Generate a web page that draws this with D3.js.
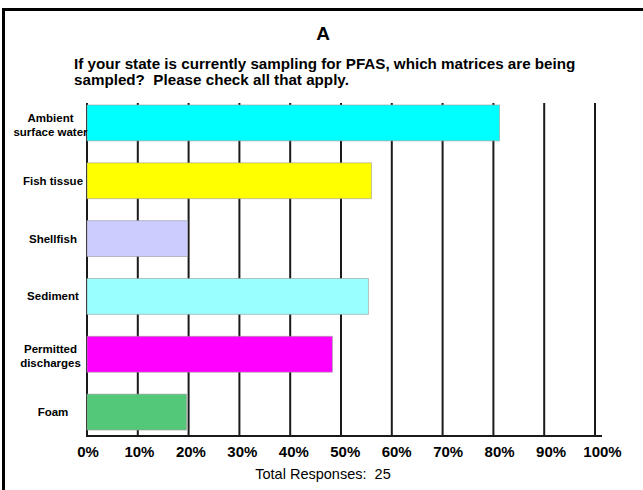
<!DOCTYPE html>
<html>
<head>
<meta charset="utf-8">
<script src="https://cdn.jsdelivr.net/npm/d3@7"></script>
<style>
  body { margin: 0; background: #fff; }
  svg { display: block; font-family: Arial, "Liberation Sans", sans-serif; }
  text { white-space: pre; }
</style>
</head>
<body>
<svg width="643" height="490"></svg>
<script>
// survey answers, percent of 25 responses
const categories = ["Ambient surface water", "Fish tissue", "Shellfish", "Sediment", "Permitted discharges", "Foam"];
const labelLines = [["Ambient", "surface water"], ["Fish tissue"], ["Shellfish"], ["Sediment"], ["Permitted", "discharges"], ["Foam"]];
const values = [81.2, 56, 19.8, 55.4, 48.3, 19.6];
const colors = ["#00ffff", "#ffff00", "#ccccff", "#99ffff", "#ff00ff", "#52c878"];
const ticks = [0, 10, 20, 30, 40, 50, 60, 70, 80, 90, 100];

const svg = d3.select("svg");

// outer frame of the slide
svg.append("rect")
  .attr("x", 3.5).attr("y", 9.5)
  .attr("width", 700).attr("height", 600)
  .attr("fill", "none")
  .attr("stroke", "#000")
  .attr("stroke-width", 3);

// title + question
svg.append("text")
  .attr("x", 323).attr("y", 40)
  .attr("text-anchor", "middle")
  .attr("font-size", 19).attr("font-weight", "bold")
  .text("A");

const q = svg.append("text")
  .attr("x", 74).attr("y", 69)
  .attr("font-size", 15.2).attr("font-weight", "bold");
q.append("tspan").attr("x", 74).text("If your state is currently sampling for PFAS, which matrices are being");
q.append("tspan").attr("x", 74).attr("dy", 16).text("sampled?  Please check all that apply.");

const xScale = d3.scaleLinear().domain([0, 100]).range([87, 595]);
const xLabel = d3.scaleLinear().domain([0, 100]).range([87.5, 602]); // labels sit a bit to the right of the lines
const yScale = d3.scaleBand()
  .domain(categories)
  .range([94, 441])
  .paddingInner(0.38)
  .paddingOuter(0.19);

const g = svg.append("g");

// vertical grid lines
g.selectAll("line.grid")
  .data(ticks)
  .enter()
  .append("line")
  .attr("class", "grid")
  .attr("x1", d => xScale(d)).attr("x2", d => xScale(d))
  .attr("y1", 103).attr("y2", 436)
  .attr("stroke", "#1a1a1a")
  .attr("stroke-width", 2);

// bottom axis line
g.append("line")
  .attr("x1", xScale(0) - 1).attr("x2", 602)
  .attr("y1", 436).attr("y2", 436)
  .attr("stroke", "#1a1a1a")
  .attr("stroke-width", 2);

// bars
g.selectAll("rect.bar")
  .data(categories)
  .enter()
  .append("rect")
  .attr("class", "bar")
  .attr("x", xScale(0))
  .attr("y", d => yScale(d))
  .attr("width", (d, i) => xScale(values[i]) - xScale(0))
  .attr("height", yScale.bandwidth())
  .attr("fill", (d, i) => colors[i])
  .attr("stroke", "#9a9a9a")
  .attr("stroke-opacity", 0.6)
  .attr("stroke-width", 1);

// category labels (two-line ones sit a little further left)
categories.forEach(function(c, i) {
  const cy = yScale(c) + yScale.bandwidth() / 2;
  const lines = labelLines[i];
  const cx = lines.length > 1 ? 50.5 : 53;
  const t = g.append("text")
    .attr("text-anchor", "middle")
    .attr("font-size", 11.5).attr("font-weight", "bold")
    .attr("y", lines.length > 1 ? cy - 1 : cy + 4);
  lines.forEach(function(l, j) {
    t.append("tspan").attr("x", cx).attr("dy", j ? 14 : 0).text(l);
  });
});

// tick labels
g.append("g")
  .attr("transform", "translate(0,436)")
  .call(d3.axisBottom(xLabel).tickValues(ticks).tickSize(0).tickPadding(10).tickFormat(d => d + "%"))
  .call(a => a.select(".domain").remove())
  .selectAll("text")
  .attr("font-family", "Arial, 'Liberation Sans', sans-serif")
  .attr("font-size", 15).attr("font-weight", "bold")
  .attr("fill", "#000");

svg.append("text")
  .attr("x", 323).attr("y", 479)
  .attr("text-anchor", "middle")
  .attr("font-size", 14.5)
  .text("Total Responses:  25");
</script>
</body>
</html>
